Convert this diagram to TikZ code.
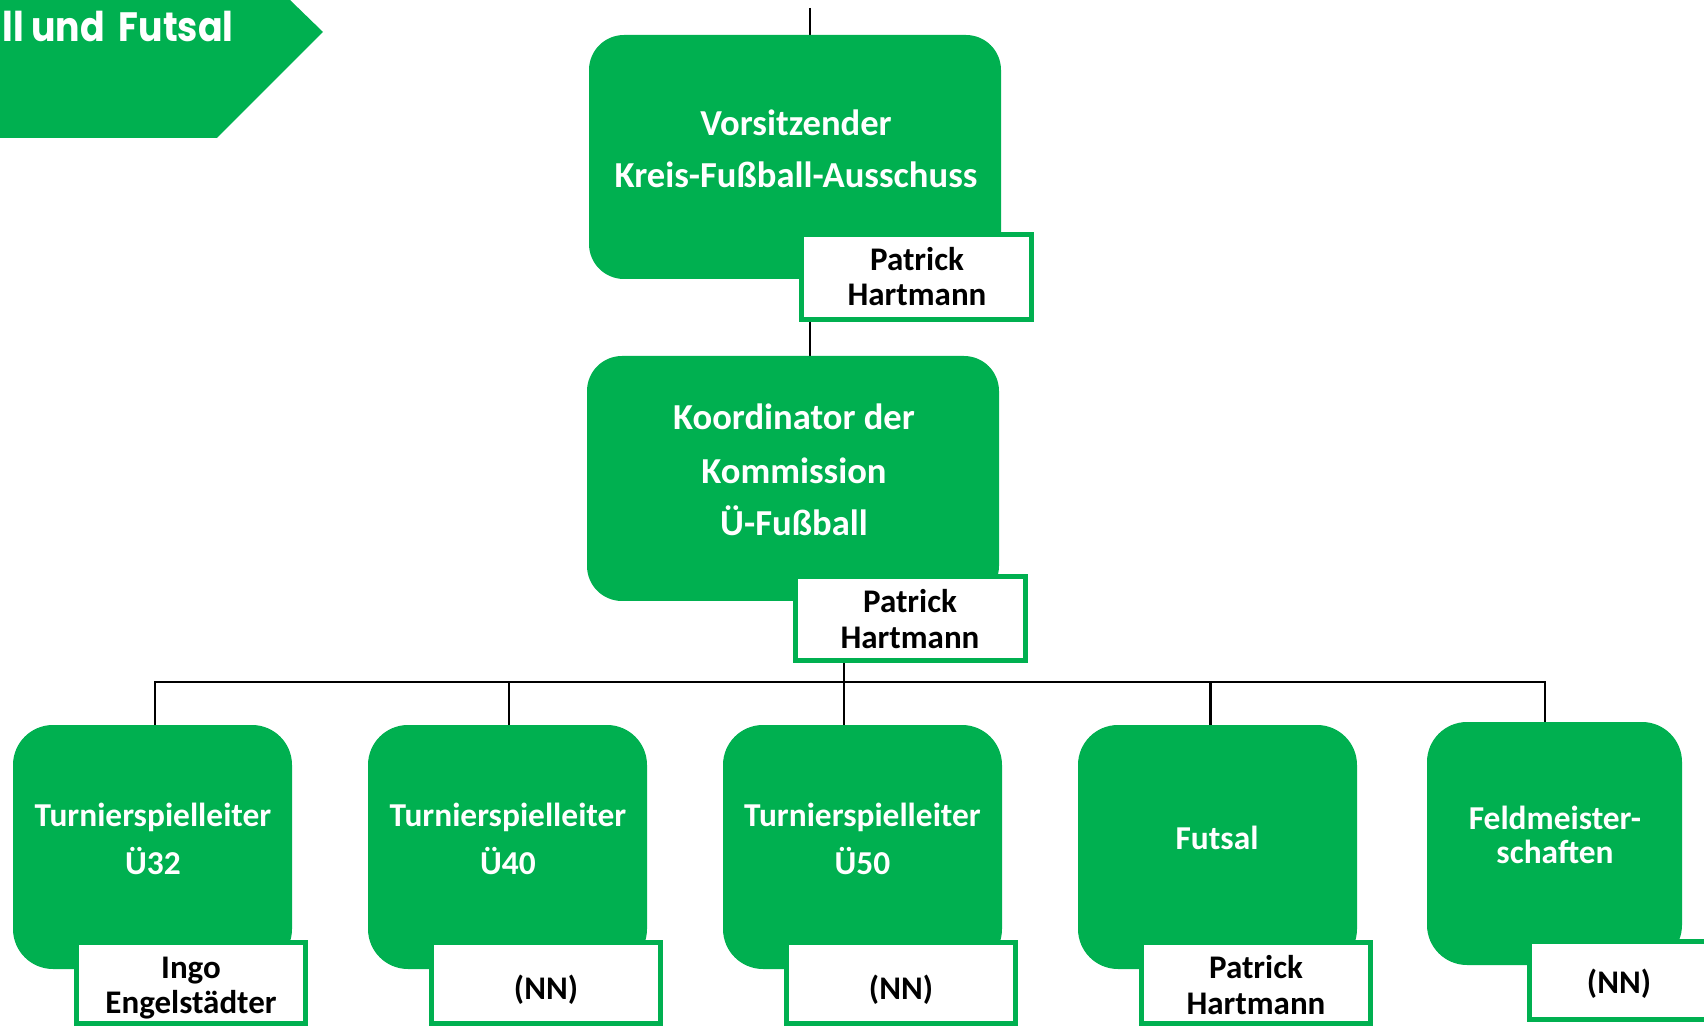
\documentclass[tikz,border=0pt]{standalone}
\usepackage{fontspec}
\setmainfont{Carlito}
\newfontfamily\bannerfont{Poppins}
\usetikzlibrary{backgrounds}
\definecolor{ogreen}{HTML}{00B050}
\newcommand\mytxt[4]{\node[#1] (#2) at #3 {#4};}
\begin{document}
\begin{tikzpicture}[x=0.5pt,y=-0.5pt,
  gbox/.style={fill=ogreen, draw=none, inner sep=0pt, rounded corners=17.5pt, minimum width=206pt, minimum height=122pt},
  sbox/.style={fill=ogreen, draw=none, inner sep=0pt, rounded corners=20pt, minimum width=139.5pt, minimum height=122pt},
  nbox/.style={fill=white, draw=ogreen, line width=2.5pt, inner sep=0pt, minimum width=115pt, minimum height=42.5pt},
  mbox/.style={fill=white, draw=ogreen, line width=2.5pt, inner sep=0pt, minimum width=114.5pt, minimum height=40.5pt},
  wt/.style={text=white, font=\bfseries\fontsize{18.3}{21}\selectfont, anchor=base, inner sep=0pt},
  st/.style={text=white, font=\bfseries\fontsize{16.7}{19}\selectfont, anchor=base, inner sep=0pt},
  nt/.style={text=black, font=\bfseries\fontsize{16.5}{19}\selectfont, anchor=base, inner sep=0pt},
  bt/.style={text=white, font=\bannerfont\bfseries\fontsize{20.5}{24}\selectfont, anchor=base west, inner sep=0pt},
  conn/.style={draw=black, line width=1.35pt}]
\useasboundingbox (0,0) rectangle (1704,1026);

% banner
\fill[ogreen] (0,0) -- (290,0) -- (323,32) -- (217,138) -- (0,138) -- cycle;
\node[bt] (banner) at (2,42) {\resizebox{115.5pt}{\height}{ll und\, Futsal}};

% top level
\node[gbox] (v) at (795,157) {};
\node[nbox] (n1) at (916.5,277) {};
\mytxt{wt}{v1}{(796,136)}{Vorsitzender}
\mytxt{wt}{v2}{(796,188)}{Kreis-Fußball-Ausschuss}
\mytxt{nt}{n1a}{(917,271)}{Patrick}
\mytxt{nt}{n1b}{(917,306)}{Hartmann}

% second level
\node[gbox, minimum height=122.5pt] (k) at (793,478.5) {};
\node[nbox, minimum height=42pt] (n2) at (910.5,618.5) {};
\mytxt{wt}{k1}{(794,430)}{Koordinator der}
\mytxt{wt}{k2}{(794,484)}{Kommission}
\mytxt{wt}{k3}{(794,536)}{Ü-Fußball}
\mytxt{nt}{n2a}{(910,613)}{Patrick}
\mytxt{nt}{n2b}{(910,648)}{Hartmann}

% bottom row
\node[sbox] (b1) at (152.5,847) {};
\node[sbox] (b2) at (507.5,847) {};
\node[sbox] (b3) at (862.5,847) {};
\node[sbox] (b4) at (1217.5,847) {};
\node[sbox, minimum width=127.5pt, minimum height=121.5pt] (b5) at (1554.5,843.5) {};

\node[mbox] (m1) at (191,983) {};
\node[mbox] (m2) at (546,983) {};
\node[mbox] (m3) at (901,983) {};
\node[mbox] (m4) at (1256,983) {};
\node[mbox, minimum width=89.5pt, minimum height=39pt] (m5) at (1619,980.5) {};

\mytxt{st}{b1a}{(153,826)}{Turnierspielleiter}
\mytxt{st}{b1b}{(153,874)}{Ü32}
\mytxt{st}{b2a}{(508,826)}{Turnierspielleiter}
\mytxt{st}{b2b}{(508,874)}{Ü40}
\mytxt{st}{b3a}{(862.5,826)}{Turnierspielleiter}
\mytxt{st}{b3b}{(862.5,874)}{Ü50}
\mytxt{st}{b4a}{(1217,849)}{Futsal}
\mytxt{st}{b5a}{(1555,829)}{Feldmeister-}
\mytxt{st}{b5b}{(1555,863)}{schaften}

\mytxt{nt}{m1a}{(191,978)}{Ingo}
\mytxt{nt}{m1b}{(191,1013)}{Engelstädter}
\mytxt{nt}{m2a}{(546,999)}{(NN)}
\mytxt{nt}{m3a}{(901,999)}{(NN)}
\mytxt{nt}{m4a}{(1256,978)}{Patrick}
\mytxt{nt}{m4b}{(1256,1014)}{Hartmann}
\mytxt{nt}{m5a}{(1619,993)}{(NN)}

% connectors
\coordinate (topend) at (810,8);
\coordinate (bus) at (844,682);
\coordinate (d1) at (155,682);
\coordinate (d2) at (509,682);
\coordinate (d4) at (1210.5,682);
\coordinate (d5) at (1545,682);
\begin{scope}[on background layer]
\draw[conn] (topend) -- (topend |- k.north);
\draw[conn] (bus |- n2.south) -- (bus |- b3.north);
\draw[conn] (d1 |- b1.north) -- (d1) -- (d5) -- (d5 |- b5.north);
\draw[conn] (d2) -- (d2 |- b2.north);
\draw[conn] (d4) -- (d4 |- b4.north);
\end{scope}
\end{tikzpicture}
\end{document}
